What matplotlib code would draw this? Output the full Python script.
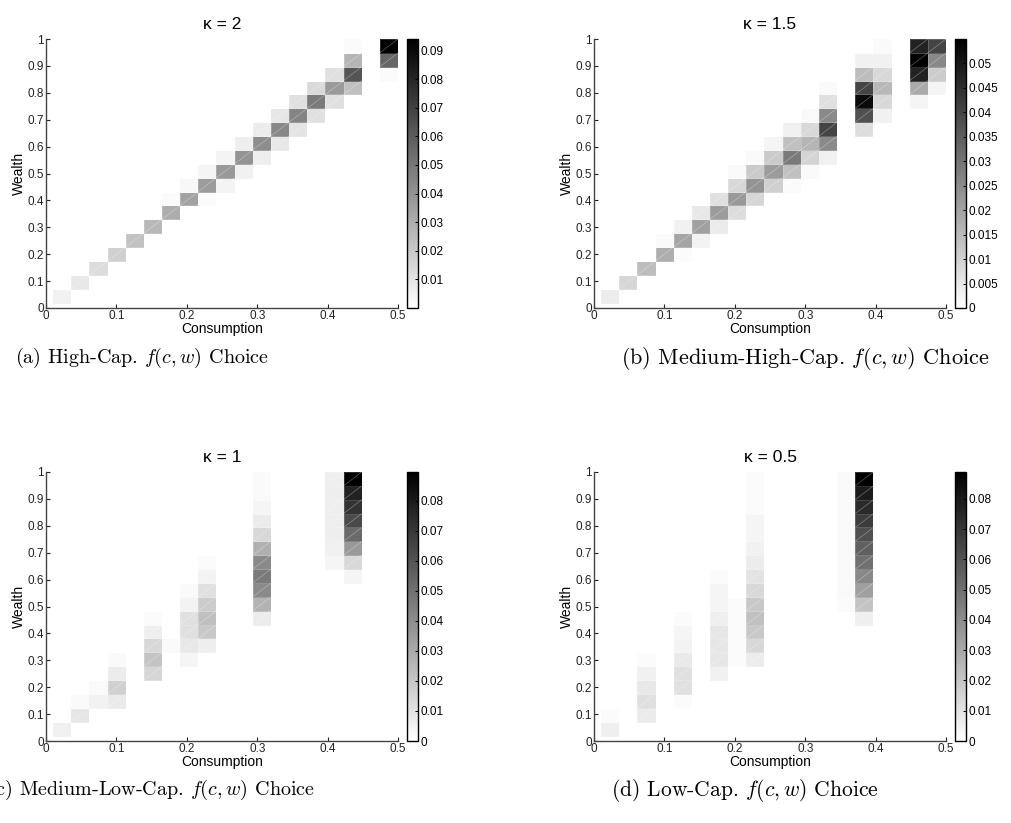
import numpy as np
import matplotlib
matplotlib.use('Agg')
import matplotlib.pyplot as plt
from matplotlib.collections import LineCollection
from matplotlib.ticker import FormatStrFormatter

plt.rcParams['font.family'] = ['Liberation Sans', 'DejaVu Sans']
plt.rcParams['mathtext.fontset'] = 'cm'

# bin edges of the (consumption, wealth) choice histogram: 19 x 19 cells
c_edges = np.linspace(0.01, 0.5, 20)
w_edges = np.linspace(0.02, 1.0, 20)

kappas = ['2', '1.5', '1', '0.5']
captions = [r'(a) High-Cap. $f(c,w)$ Choice',
            r'(b) Medium-High-Cap. $f(c,w)$ Choice',
            r'(c) Medium-Low-Cap. $f(c,w)$ Choice',
            r'(d) Low-Cap. $f(c,w)$ Choice']
caption_x = [142, 805, 152, 745]   # pixel centres
caption_size = [14.5, 16, 14.5, 15.5]
vmax = [0.094, 0.0549, 0.0895, 0.0889]
cbar_ticks = [np.arange(0.01, 0.0901, 0.01),
              np.arange(0.0, 0.0501, 0.005),
              np.arange(0.0, 0.0801, 0.01),
              np.arange(0.0, 0.0801, 0.01)]

# non-empty cells: (consumption bin, wealth bin, density)
cells_k2 = [
    (0, 0, 0.0055), (1, 1, 0.0085), (2, 2, 0.0129), (3, 3, 0.0173),
    (4, 4, 0.0225), (5, 5, 0.0262), (6, 6, 0.0302), (6, 7, 0.0018),
    (7, 7, 0.0343), (7, 8, 0.0026), (8, 7, 0.0018), (8, 8, 0.0365),
    (8, 9, 0.0037), (9, 8, 0.0044), (9, 9, 0.0376), (9, 10, 0.0044),
    (10, 9, 0.0055), (10, 10, 0.0398), (10, 11, 0.0063), (11, 10, 0.0063),
    (11, 11, 0.0420), (11, 12, 0.0070), (12, 11, 0.0085), (12, 12, 0.0439),
    (12, 13, 0.0092), (13, 12, 0.0100), (13, 13, 0.0453), (13, 14, 0.0114),
    (14, 13, 0.0114), (14, 14, 0.0490), (14, 15, 0.0136), (15, 14, 0.0114),
    (15, 15, 0.0372), (15, 16, 0.0114), (16, 15, 0.0232), (16, 16, 0.0627),
    (16, 17, 0.0273), (16, 18, 0.0018), (18, 16, 0.0018), (18, 17, 0.0564),
    (18, 18, 0.0940),
]

cells_k15 = [
    (0, 0, 0.0041), (1, 1, 0.0090), (2, 2, 0.0142), (3, 3, 0.0177),
    (4, 3, 0.0009), (3, 4, 0.0015), (4, 4, 0.0194), (5, 4, 0.0026),
    (4, 5, 0.0032), (5, 5, 0.0205), (6, 5, 0.0045), (5, 6, 0.0050),
    (6, 6, 0.0213), (7, 6, 0.0075), (6, 7, 0.0067), (7, 7, 0.0220),
    (8, 7, 0.0090), (7, 8, 0.0084), (8, 8, 0.0233), (9, 8, 0.0101),
    (10, 8, 0.0009), (7, 9, 0.0011), (8, 9, 0.0114), (9, 9, 0.0213),
    (10, 9, 0.0136), (11, 9, 0.0011), (8, 10, 0.0011), (9, 10, 0.0114),
    (10, 10, 0.0286), (11, 10, 0.0093), (12, 10, 0.0032), (9, 11, 0.0022),
    (10, 11, 0.0136), (11, 11, 0.0159), (12, 11, 0.0252), (10, 12, 0.0032),
    (11, 12, 0.0084), (12, 12, 0.0403), (11, 13, 0.0015), (12, 13, 0.0252),
    (12, 14, 0.0067), (12, 15, 0.0011),
    (14, 12, 0.0075), (14, 13, 0.0377), (14, 14, 0.0527), (14, 15, 0.0403),
    (14, 16, 0.0142), (14, 17, 0.0032), (15, 13, 0.0032), (15, 14, 0.0084),
    (15, 15, 0.0153), (15, 16, 0.0084), (15, 17, 0.0032), (15, 18, 0.0011),
    (17, 14, 0.0022), (17, 15, 0.0183), (17, 16, 0.0476), (17, 17, 0.0549),
    (17, 18, 0.0476), (18, 15, 0.0022), (18, 16, 0.0110), (18, 17, 0.0256),
    (18, 18, 0.0403),
]

cells_k1 = [
    (0, 0, 0.0053), (1, 1, 0.0088), (1, 2, 0.0018), (2, 2, 0.0046),
    (2, 3, 0.0018), (3, 2, 0.0074), (3, 3, 0.0165), (3, 4, 0.0067),
    (3, 5, 0.0018), (5, 4, 0.0144), (5, 5, 0.0207), (5, 6, 0.0137),
    (5, 7, 0.0060), (5, 8, 0.0014), (6, 6, 0.0018), (7, 5, 0.0035),
    (7, 6, 0.0081), (7, 7, 0.0109), (7, 8, 0.0109), (7, 9, 0.0042),
    (7, 10, 0.0018), (8, 6, 0.0060), (8, 7, 0.0193), (8, 8, 0.0221),
    (8, 9, 0.0179), (8, 10, 0.0109), (8, 11, 0.0042), (8, 12, 0.0014),
    (11, 8, 0.0067), (11, 9, 0.0267), (11, 10, 0.0411), (11, 11, 0.0467),
    (11, 12, 0.0411), (11, 13, 0.0277), (11, 14, 0.0137), (11, 15, 0.0070),
    (11, 16, 0.0035), (11, 17, 0.0018), (11, 18, 0.0018),
    (15, 12, 0.0035), (15, 13, 0.0053), (15, 14, 0.0060), (15, 15, 0.0060),
    (15, 16, 0.0060), (15, 17, 0.0060), (15, 18, 0.0060),
    (16, 11, 0.0035), (16, 12, 0.0137), (16, 13, 0.0358), (16, 14, 0.0523),
    (16, 15, 0.0635), (16, 16, 0.0716), (16, 17, 0.0776), (16, 18, 0.0895),
]

cells_k05 = [
    (0, 0, 0.0059), (0, 1, 0.0017),
    (2, 1, 0.0070), (2, 2, 0.0112), (2, 3, 0.0080), (2, 4, 0.0052),
    (2, 5, 0.0017),
    (4, 2, 0.0017), (4, 3, 0.0108), (4, 4, 0.0108), (4, 5, 0.0077),
    (4, 6, 0.0042), (4, 7, 0.0035), (4, 8, 0.0017),
    (6, 4, 0.0052), (6, 5, 0.0087), (6, 6, 0.0087), (6, 7, 0.0087),
    (6, 8, 0.0059), (6, 9, 0.0035), (6, 10, 0.0035), (6, 11, 0.0014),
    (7, 5, 0.0017), (7, 6, 0.0017), (7, 7, 0.0017), (7, 8, 0.0017),
    (7, 9, 0.0017),
    (8, 5, 0.0066), (8, 6, 0.0136), (8, 7, 0.0192), (8, 8, 0.0220),
    (8, 9, 0.0192), (8, 10, 0.0136), (8, 11, 0.0098), (8, 12, 0.0066),
    (8, 13, 0.0052), (8, 14, 0.0035), (8, 15, 0.0035), (8, 16, 0.0017),
    (8, 17, 0.0017), (8, 18, 0.0017),
    (13, 9, 0.0014), (13, 10, 0.0024), (13, 11, 0.0024), (13, 12, 0.0024),
    (13, 13, 0.0024), (13, 14, 0.0024), (13, 15, 0.0024), (13, 16, 0.0024),
    (13, 17, 0.0024), (13, 18, 0.0024),
    (14, 8, 0.0059), (14, 9, 0.0206), (14, 10, 0.0331), (14, 11, 0.0415),
    (14, 12, 0.0499), (14, 13, 0.0554), (14, 14, 0.0610), (14, 15, 0.0680),
    (14, 16, 0.0743), (14, 17, 0.0791), (14, 18, 0.0889),
]

panels = [cells_k2, cells_k15, cells_k1, cells_k05]

W, H = 1011, 823
fig = plt.figure(figsize=(W / 100, H / 100), dpi=100)

# pixel boxes (left, top) of each axes; all share the same size
ax_lt = [(46, 39), (594, 39), (46, 472), (594, 472)]
ax_w, ax_h = 352, 269
cb_gap, cb_w = 9, 11
cap_y = [358, 358, 790, 790]

for k in range(4):
    left, top = ax_lt[k]
    ax = fig.add_axes([left / W, 1 - (top + ax_h) / H, ax_w / W, ax_h / H])

    Z = np.zeros((len(w_edges) - 1, len(c_edges) - 1))
    for ci, wi, v in panels[k]:
        Z[wi, ci] = v
    mesh = ax.pcolormesh(c_edges, w_edges, Z, cmap='gray_r', vmin=0,
                         vmax=vmax[k], edgecolors=(1, 1, 1, 0.18),
                         linewidth=0.4)

    # faint diagonal seams inside the filled cells
    segs = [[(c_edges[ci], w_edges[wi]), (c_edges[ci + 1], w_edges[wi + 1])]
            for ci, wi, v in panels[k] if v > 0.004]
    ax.add_collection(LineCollection(segs, colors='white', alpha=0.35,
                                     linewidths=0.5))

    ax.set_xlim(0, 0.5)
    ax.set_ylim(0, 1)
    ax.set_xticks(np.arange(0, 0.51, 0.1))
    ax.set_yticks(np.arange(0, 1.01, 0.1))
    ax.xaxis.set_major_formatter(FormatStrFormatter('%g'))
    ax.yaxis.set_major_formatter(FormatStrFormatter('%g'))
    ax.tick_params(direction='in', length=3, width=0.8, labelsize=8.5,
                   pad=1.5, colors='#222222')
    for side in ('top', 'right'):
        ax.spines[side].set_visible(False)
    for side in ('left', 'bottom'):
        ax.spines[side].set_color('#444444')
        ax.spines[side].set_linewidth(1.0)

    ax.set_xlabel('Consumption', fontsize=10, labelpad=0)
    ax.set_ylabel('Wealth', fontsize=10, labelpad=1)
    ax.set_title('\u03ba = ' + kappas[k], fontsize=12.5, pad=7)

    cax = fig.add_axes([(left + ax_w + cb_gap) / W, 1 - (top + ax_h) / H,
                        cb_w / W, ax_h / H])
    cb = fig.colorbar(mesh, cax=cax)
    cb.set_ticks(cbar_ticks[k])
    cb.ax.yaxis.set_major_formatter(FormatStrFormatter('%g'))
    cb.ax.tick_params(direction='in', length=2.5, width=0.7, labelsize=8.5,
                      pad=1.5)
    cb.outline.set_linewidth(1.0)

    fig.text(caption_x[k] / W, 1 - cap_y[k] / H, captions[k],
             family='cmr10', fontsize=caption_size[k], ha='center',
             va='center')

fig.savefig('out.png', dpi=100)
